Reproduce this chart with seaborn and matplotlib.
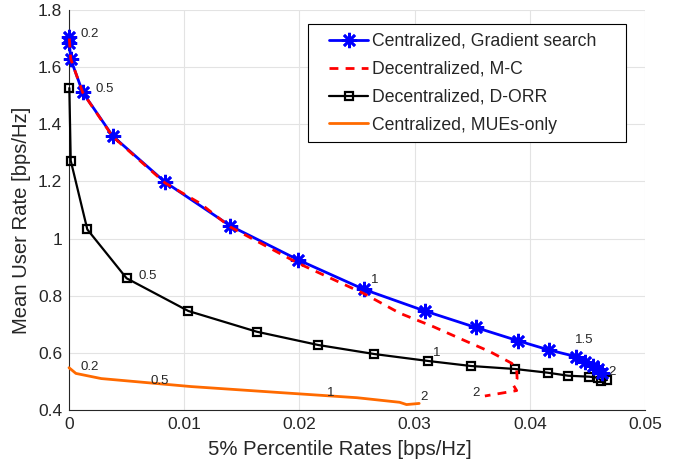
import matplotlib
matplotlib.use("Agg")
import matplotlib.pyplot as plt
import seaborn as sns
import numpy as np

# ---- data ----
grad_x = [0.00003, 0.00003, 0.00015, 0.00119, 0.00379, 0.00833, 0.01398, 0.01992,
          0.02561, 0.03086, 0.0353, 0.0390, 0.04167, 0.0440, 0.0448, 0.0455, 0.04595, 0.0463]
grad_y = [1.707, 1.686, 1.628, 1.512, 1.359, 1.198, 1.045, 0.925,
          0.822, 0.747, 0.689, 0.642, 0.610, 0.587, 0.569, 0.554, 0.542, 0.531]

mc_x = [0.00003, 0.00015, 0.00119, 0.00379, 0.00833, 0.01137, 0.01398, 0.0199, 0.02555,
        0.02873, 0.03163, 0.03423, 0.03655, 0.03843, 0.03886, 0.0389, 0.0386, 0.03886, 0.0361]
mc_y = [1.700, 1.629, 1.511, 1.357, 1.195, 1.1235, 1.041, 0.9135, 0.8085,
        0.7385, 0.6916, 0.645, 0.604, 0.5635, 0.540, 0.510, 0.485, 0.468, 0.449]

orr_x = [0.00003, 0.00015, 0.00159, 0.0050, 0.01036, 0.0163, 0.02164, 0.02648, 0.03119,
         0.0349, 0.03872, 0.04155, 0.04334, 0.04516, 0.0459, 0.0462, 0.0467]
orr_y = [1.527, 1.273, 1.032, 0.861, 0.7465, 0.674, 0.6275, 0.596, 0.5715,
         0.554, 0.5435, 0.5306, 0.520, 0.5166, 0.513, 0.503, 0.505]

mue_x = [0.0, 0.0006, 0.0028, 0.0106, 0.0183, 0.0250, 0.0287, 0.0293, 0.0304]
mue_y = [0.548, 0.528, 0.510, 0.482, 0.461, 0.443, 0.427, 0.419, 0.423]

# parameter annotations: (text, x, y)
ann_text = ["0.2", "0.5", "1", "1.5", "2", "0.5", "1", "2", "0.2", "0.5", "1", "2"]
ann_x = [0.00104, 0.00234, 0.0262, 0.0439, 0.0468, 0.0060, 0.0316, 0.0350,
         0.00102, 0.0071, 0.0224, 0.0305]
ann_y = [1.715, 1.5235, 0.855, 0.645, 0.534, 0.869, 0.598, 0.458,
         0.5516, 0.5015, 0.458, 0.4466]

series_names = ["Centralized, Gradient search", "Decentralized, M-C",
                "Decentralized, D-ORR", "Centralized, MUEs-only"]

# ---- style ----
sns.set_style("whitegrid")
plt.rcParams["font.family"] = ["Liberation Sans", "DejaVu Sans"]

fig = plt.figure(figsize=(6.78, 4.63), dpi=100)
ax = fig.add_axes([69/678, 53/463, 576/678, 400/463])

text_col = "#262626"
BLUE = "#0000ff"
RED = "#ff0000"
ORANGE = "#ff6a00"
DASH = (0, (3.2, 2.6))

sns.lineplot(x=grad_x, y=grad_y, sort=False, estimator=None, ax=ax, color=BLUE,
             lw=2, marker=(8, 2, 0), markersize=11, markeredgewidth=1.9,
             markeredgecolor=BLUE, label=series_names[0], zorder=4)
sns.lineplot(x=mc_x, y=mc_y, sort=False, estimator=None, ax=ax, color=RED,
             lw=2, label=series_names[1], zorder=5)
ax.lines[-1].set_linestyle(DASH)
sns.lineplot(x=orr_x, y=orr_y, sort=False, estimator=None, ax=ax, color="black",
             lw=1.6, marker="s", markersize=6, markerfacecolor="none",
             markeredgecolor="black", markeredgewidth=1.6,
             label=series_names[2], zorder=3)
sns.lineplot(x=mue_x, y=mue_y, sort=False, estimator=None, ax=ax, color=ORANGE,
             lw=2, label=series_names[3], zorder=3)
for ln in ax.lines:
    ln.set_clip_on(False)

for t, xx, yy in zip(ann_text, ann_x, ann_y):
    ax.text(xx, yy, t, fontsize=9.5, color=text_col, ha="left", va="center")

ax.set_xlim(0, 0.05)
ax.set_ylim(0.4, 1.8)
ax.set_xticks([0, 0.01, 0.02, 0.03, 0.04, 0.05])
ax.set_xticklabels(["0", "0.01", "0.02", "0.03", "0.04", "0.05"])
ax.set_yticks([0.4, 0.6, 0.8, 1.0, 1.2, 1.4, 1.6, 1.8])
ax.set_yticklabels(["0.4", "0.6", "0.8", "1", "1.2", "1.4", "1.6", "1.8"])

ax.grid(True, color="#e3e3e3", lw=0.8)
ax.set_axisbelow(True)
for s in ["top", "right"]:
    ax.spines[s].set_visible(False)
for s in ["left", "bottom"]:
    ax.spines[s].set_color(text_col)
    ax.spines[s].set_linewidth(0.8)
ax.tick_params(axis="both", direction="in", length=4, width=0.8, colors=text_col,
               labelsize=12.5, labelcolor=text_col, pad=5)

ax.set_xlabel("5% Percentile Rates [bps/Hz]", fontsize=14.6, color=text_col, labelpad=6)
ax.set_ylabel("Mean User Rate [bps/Hz]", fontsize=14.6, color=text_col, labelpad=5)
ax.xaxis.set_label_coords(0.47, -0.075)
ax.yaxis.label.set_y(0.475)

HL = 2.9     # total handle length (em); the drawn line keeps the right part
KEEP = 2.2
leg = ax.legend(loc="upper left", bbox_to_anchor=(0.415, 0.5, 0.552, 0.465),
                mode="expand", fontsize=12.7,
                frameon=True, fancybox=False, edgecolor="black", framealpha=1,
                handlelength=HL, handletextpad=0.2, labelspacing=0.62,
                borderpad=0.5, borderaxespad=0)
leg.get_frame().set_linewidth(0.8)
for h in leg.get_lines():
    if h.get_color() == RED:
        h.set_linestyle(DASH)
    xd = np.asarray(h.get_xdata(), dtype=float)
    x1 = xd[-1]
    h.set_xdata(x1 - (x1 - xd) * KEEP / HL)

fig.savefig("out.png", dpi=100)
